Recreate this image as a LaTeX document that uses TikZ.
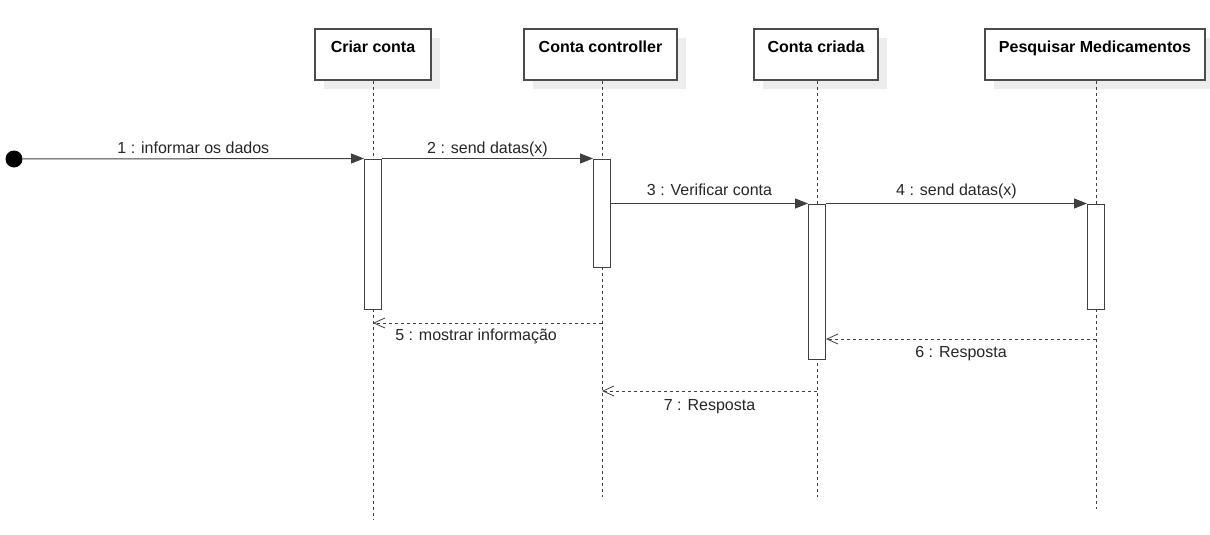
\documentclass[tikz,border=0pt]{standalone}
\usepackage{fontspec}
\setmainfont{Liberation Sans}
\usetikzlibrary{arrows.meta,positioning,shadows}

\begin{document}
\begin{tikzpicture}[x=1pt,y=-1pt,
    lifebox/.style={rectangle,minimum height=51pt,inner sep=0pt,line width=1.1pt,draw=black!70,fill=white,
        drop shadow={shadow xshift=9pt,shadow yshift=-9pt,fill=black!7,opacity=1}},
    title/.style={anchor=north,yshift=-8.5pt,font=\fontsize{16}{19}\selectfont\bfseries},
    lifeline/.style={draw=black!75,line width=0.8pt,dash pattern=on 3pt off 3pt},
    activation/.style={rectangle,minimum width=17pt,inner sep=0pt,line width=1pt,draw=black!75,fill=white},
    call/.style={draw=black!75,line width=1pt,-{Triangle[length=13pt,width=10pt]}},
    reply/.style={draw=black!75,line width=0.8pt,dash pattern=on 3pt off 3pt,-{Straight Barb[length=11pt,width=10pt]}},
    msg/.style={font=\fontsize{16}{19}\selectfont,text=black!85,anchor=base},
   ]
    \useasboundingbox (0,0) rectangle (1210,535);

    % lifeline heads
    \node (criar) [lifebox,minimum width=116pt] at (373,54.5) {};
    \node (ctrl)  [lifebox,minimum width=153pt] at (600.5,54.5) {};
    \node (criada)[lifebox,minimum width=124pt] at (816,54.5) {};
    \node (pesq)  [lifebox,minimum width=220pt] at (1095,54.5) {};
    \node [title] at (criar.north)  {Criar conta};
    \node [title] at (ctrl.north)   {Conta controller};
    \node [title] at (criada.north) {Conta criada};
    \node [title] at (pesq.north)   {Pesquisar Medicamentos};

    % dashed lines
    \coordinate (criar_end)  at (373,520);
    \coordinate (ctrl_end)   at (602,497);
    \coordinate (criada_end) at (817,497);
    \coordinate (pesq_end)   at (1096,509);
    \draw[lifeline] (criar.south -| criar_end) -- (criar_end);
    \draw[lifeline] (ctrl.south -| ctrl_end) -- (ctrl_end);
    \draw[lifeline] (criada.south -| criada_end) -- (criada_end);
    \draw[lifeline] (pesq.south -| pesq_end) -- (pesq_end);

    % activations
    \node (act_criar)  [activation,minimum height=150pt] at (373,234) {};
    \node (act_ctrl)   [activation,minimum height=108pt] at (602,213) {};
    \node (act_criada) [activation,minimum height=155pt] at (817,281.5) {};
    \node (act_pesq)   [activation,minimum height=105pt] at (1096,256.5) {};

    \node (start) [circle,fill=black,inner sep=0pt,minimum size=17pt] at (14,159) {};

    % calls
    \draw[call] (start) -- (act_criar.north west) node[msg,midway,yshift=5.5pt] {1 : informar os dados};
    \draw[call] (act_criar.north east) -- (act_ctrl.north west) node[msg,midway,yshift=5.5pt] {2 : send datas(x)};
    \draw[call] (act_ctrl.east |- act_criada.north) -- (act_criada.north west) node[msg,midway,yshift=8pt] {3 : Verificar conta};
    \draw[call] (act_criada.north east) -- (act_pesq.north west) node[msg,midway,yshift=8pt] {4 : send datas(x)};

    % replies
    \coordinate (r5) at (602,323);
    \coordinate (r6) at (1096,339);
    \coordinate (r7) at (817,391);
    \draw[reply] (r5) -- (criar_end |- r5) node[msg,pos=0.55,yshift=-17.5pt] {5 : mostrar informação};
    \draw[reply] (r6) -- (act_criada.east |- r6) node[msg,midway,yshift=-18.5pt] {6 : Resposta};
    \draw[reply] (r7) -- (ctrl_end |- r7) node[msg,midway,yshift=-19pt] {7 : Resposta};
\end{tikzpicture}
\end{document}
